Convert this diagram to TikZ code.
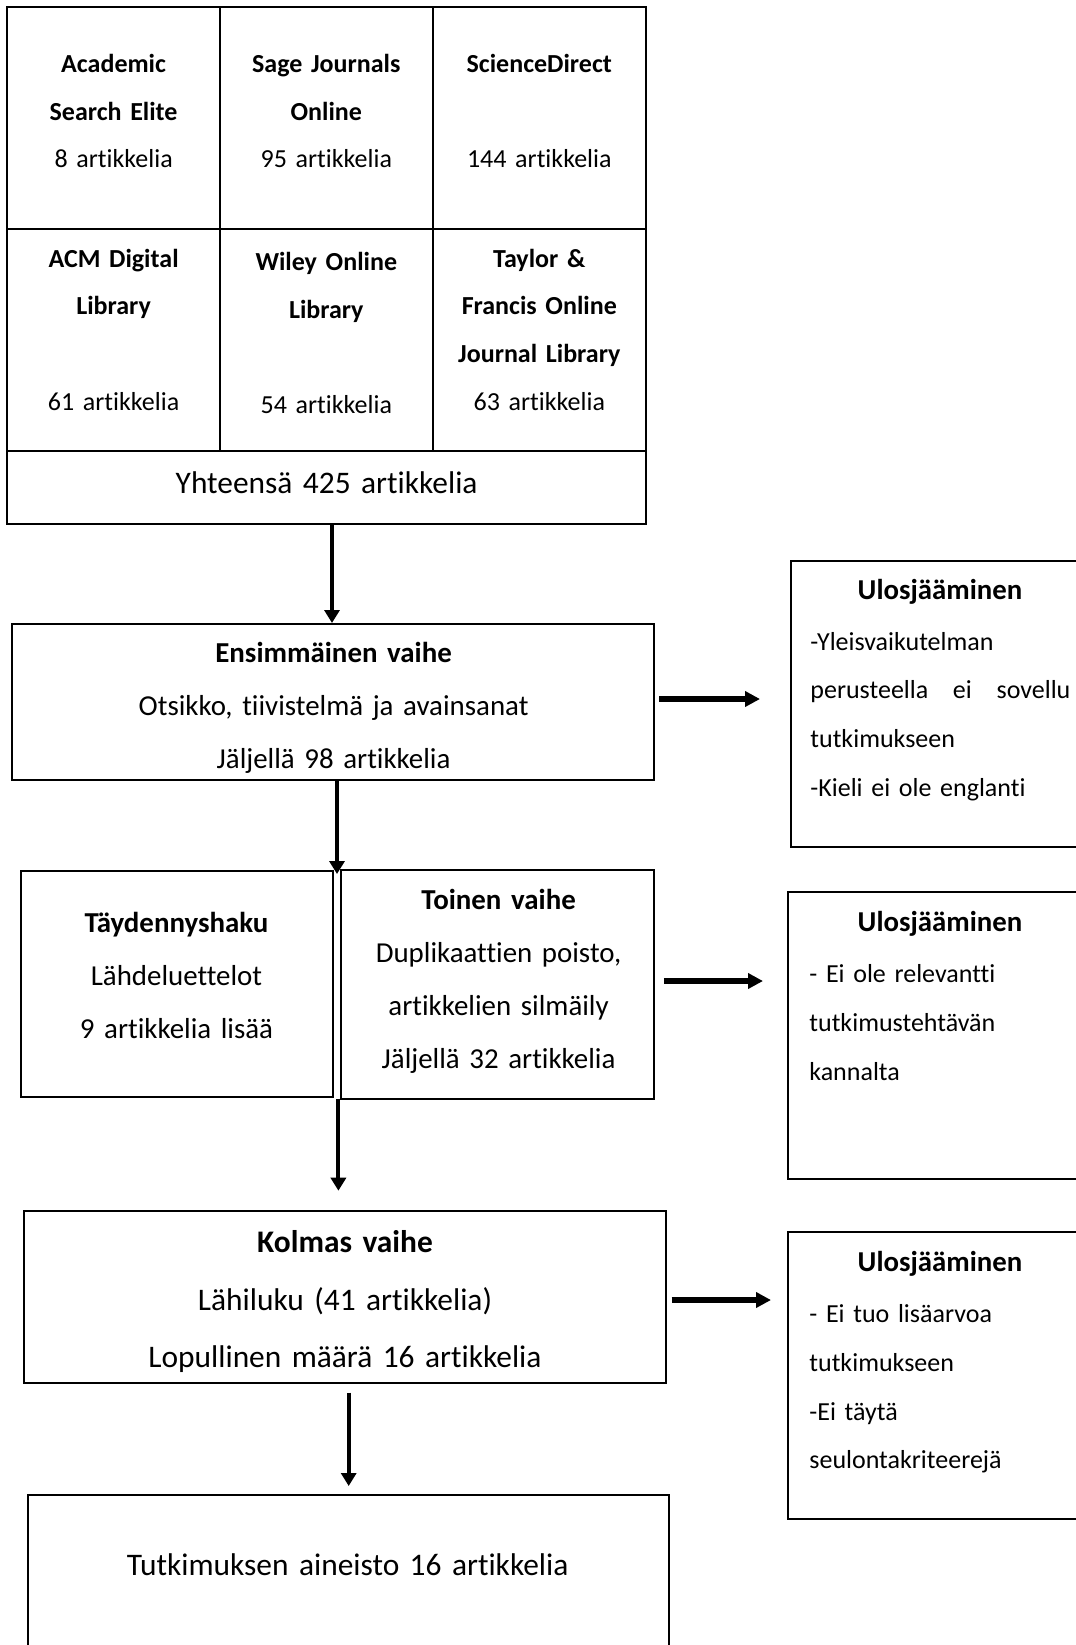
\documentclass[tikz,border=0pt]{standalone}
\usepackage{fontspec}
\setmainfont{Carlito}[Ligatures=CommonOff]
\usetikzlibrary{arrows.meta,fit}
\begin{document}
\begin{tikzpicture}[x=0.5pt,y=-0.5pt,
  box/.style={draw,line width=1pt,inner sep=0pt},
  gridtxt/.style={anchor=base,align=center,text width=110pt,inner sep=0pt,font=\fontsize{13}{23.85}\selectfont},
  bigtxt/.style={anchor=base,align=center,text width=300pt,inner sep=0pt,font=\fontsize{15.7}{28.75}\selectfont},
  phasetxt/.style={anchor=base,align=center,text width=150pt,inner sep=0pt,font=\fontsize{14.45}{26.4}\selectfont},
  uloshead/.style={anchor=base,align=center,text width=130pt,inner sep=0pt,font=\fontsize{14.4}{24.4}\selectfont\bfseries},
  ulosbody/.style={anchor=base west,align=left,text width=130pt,inner sep=0pt,font=\fontsize{13}{24.4}\selectfont},
  varrow/.style={line width=2pt,-{Triangle[length=6.5pt,width=7.5pt]}},
  harrow/.style={line width=2.6pt,-{Triangle[length=7.5pt,width=7.5pt]}}
]
\useasboundingbox (0,0) rectangle (1076,1645);
\clip (0,0) rectangle (1076,1645);

% ---- grid of databases ----
\node[box,fit={(7.4,7.4) (220,229)}] (c11) {};
\node[box,fit={(220,7.4) (432.5,229)}] (c12) {};
\node[box,fit={(432.5,7.4) (645.8,229)}] (c13) {};
\node[box,fit={(7.4,229) (220,451)}] (c21) {};
\node[box,fit={(220,229) (432.5,451)}] (c22) {};
\node[box,fit={(432.5,229) (645.8,451)}] (c23) {};
\node[box,fit={(7.4,451) (645.8,523.6)}] (total) {};

\node[gridtxt] (t11) at (113.6,72.5) {\textbf{Academic}\\\textbf{Search Elite}\\8 artikkelia};
\node[gridtxt] (t12) at (326.3,72.5) {\textbf{Sage Journals}\\\textbf{Online}\\95 artikkelia};
\node[gridtxt] (t13) at (539.3,72.5) {\textbf{ScienceDirect}\\\mbox{}\\144 artikkelia};
\node[gridtxt] (t21) at (113.6,267) {\textbf{ACM Digital}\\\textbf{Library}\\\mbox{}\\61 artikkelia};
\node[gridtxt] (t22) at (326.3,270.5) {\textbf{Wiley Online}\\\textbf{Library}\\\mbox{}\\54 artikkelia};
\node[gridtxt] (t23) at (539.3,267) {\textbf{Taylor \&}\\\textbf{Francis Online}\\\textbf{Journal Library}\\63 artikkelia};
\node[bigtxt] (ttot) at (326.6,493) {Yhteensä 425 artikkelia};

% ---- phase boxes ----
\node[box,fit={(12.4,624) (654,780)}] (ens) {};
\node[phasetxt,text width=300pt] (tens) at (333.6,662.5) {\textbf{Ensimmäinen vaihe}\\Otsikko, tiivistelmä ja avainsanat\\Jäljellä 98 artikkelia};

\node[box,fit={(20.6,870.7) (333,1096.7)}] (tayd) {};
\node[phasetxt] (ttayd) at (176.5,932.5) {\textbf{Täydennyshaku}\\Lähdeluettelot\\9 artikkelia lisää};

\node[box,fit={(341,870) (654,1098.7)}] (toinen) {};
\node[phasetxt,font=\fontsize{14.45}{26.5}\selectfont] (ttoinen) at (498.6,909) {\textbf{Toinen vaihe}\\Duplikaattien poisto,\\artikkelien silmäily\\Jäljellä 32 artikkelia};

\node[box,fit={(24,1210.7) (665.7,1382.7)}] (kolmas) {};
\node[bigtxt] (tkolmas) at (345,1252.5) {\textbf{Kolmas vaihe}\\Lähiluku (41 artikkelia)\\Lopullinen määrä 16 artikkelia};

\node[box,fit={(27.5,1495) (669,1720)}] (final) {};
\node[bigtxt] (tfinal) at (347.6,1575) {Tutkimuksen aineisto 16 artikkelia};

% ---- exclusion boxes ----
\node[box,fit={(790.6,560.7) (1092,846.7)}] (ulos1) {};
\node[uloshead] (hu1) at (940,599) {Ulosjääminen};
\node[ulosbody] (bu1) at (810,650) {-Yleisvaikutelman\\\makebox[130pt][l]{perusteella\hfill ei\hfill sovellu}\\tutkimukseen\\-Kieli ei ole englanti};

\node[box,fit={(788,892) (1092,1179)}] (ulos2) {};
\node[uloshead] (hu2) at (940,931) {Ulosjääminen};
\node[ulosbody] (bu2) at (809,982.5) {- Ei ole relevantti\\tutkimustehtävän\\kannalta};

\node[box,fit={(788,1232) (1092,1519)}] (ulos3) {};
\node[uloshead] (hu3) at (940,1271) {Ulosjääminen};
\node[ulosbody] (bu3) at (809,1322.5) {- Ei tuo lisäarvoa\\tutkimukseen\\-Ei täytä\\seulontakriteerejä};

% ---- vertical connectors ----
\coordinate (m1) at (332,0);
\draw[varrow] (total.south -| m1) -- (ens.north -| m1);
\coordinate (m2) at (337,874);
\draw[varrow] (ens.south -| m2) -- (m2);
\coordinate (m3) at (338.4,1098.7);
\draw[varrow,shorten >=9.5pt] (m3) -- (m3 |- kolmas.north);
\coordinate (m4) at (348.7,0);
\draw[varrow,shorten <=4.5pt,shorten >=4pt] (kolmas.south -| m4) -- (final.north -| m4);

% ---- horizontal connectors ----
\coordinate (r1) at (0,699);
\draw[harrow,shorten <=2pt,shorten >=14.8pt] (ens.east |- r1) -- (ulos1.west |- r1);
\coordinate (r2) at (0,981);
\draw[harrow,shorten <=4.4pt,shorten >=12pt] (toinen.east |- r2) -- (ulos2.west |- r2);
\coordinate (r3) at (0,1300);
\draw[harrow,shorten <=2.5pt,shorten >=8pt] (kolmas.east |- r3) -- (ulos3.west |- r3);
\end{tikzpicture}
\end{document}
